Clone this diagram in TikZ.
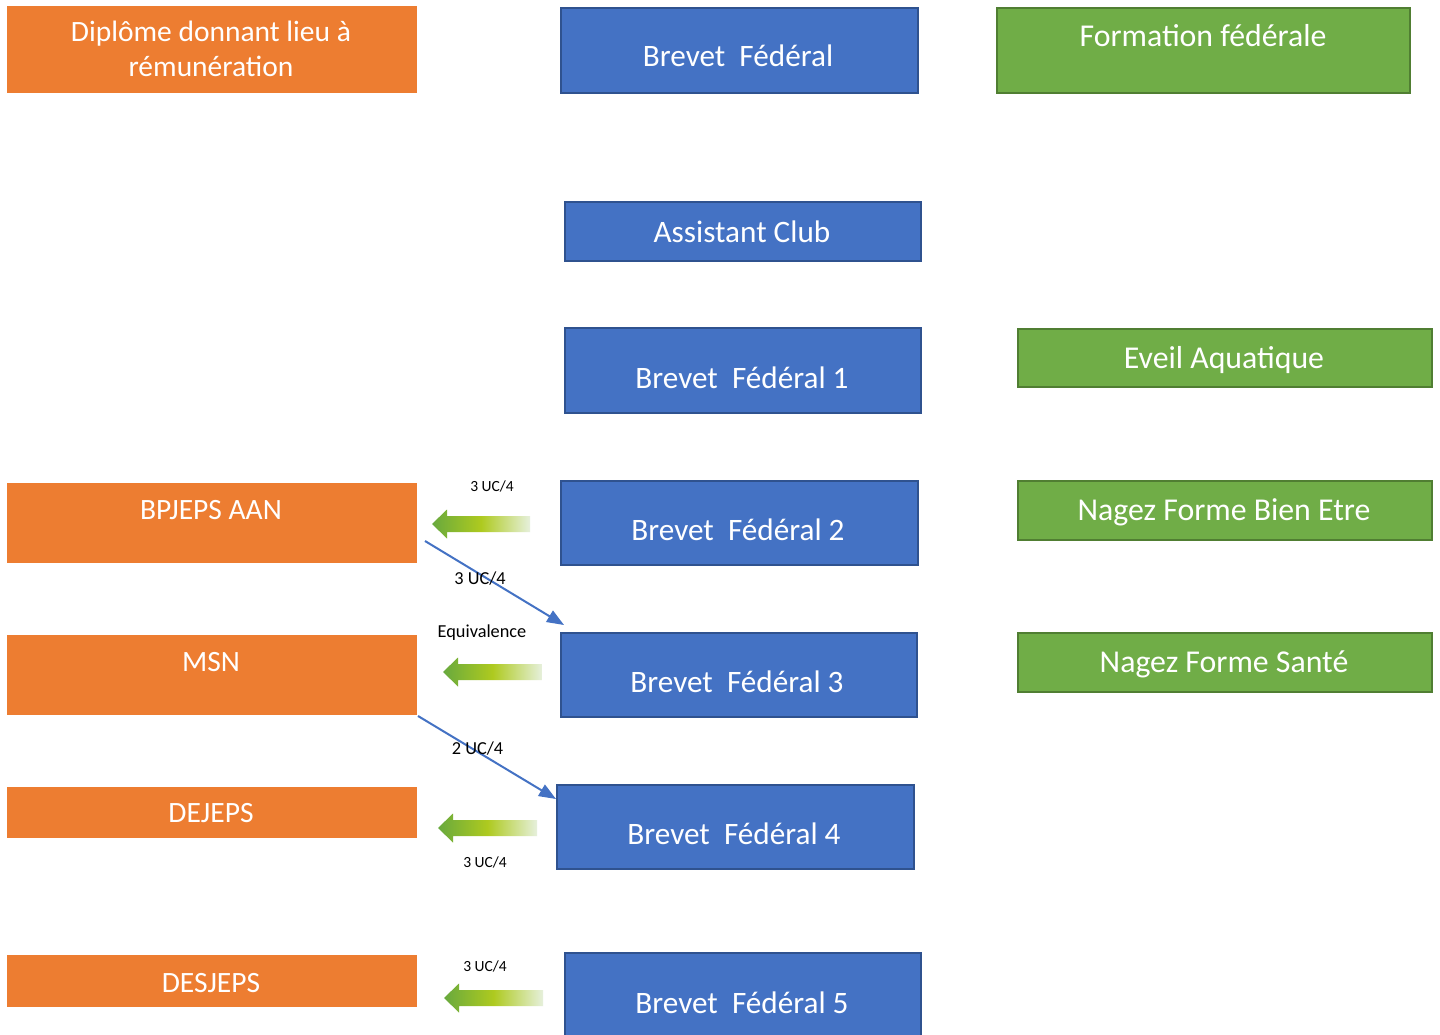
\documentclass[tikz,border=0pt]{standalone}
\usepackage{fontspec}
\setmainfont{Carlito}
\usetikzlibrary{arrows.meta}
\definecolor{orangeC}{HTML}{ED7D31}
\definecolor{blueC}{HTML}{4472C4}
\definecolor{blueD}{HTML}{2F528F}
\definecolor{greenC}{HTML}{70AD47}
\definecolor{greenD}{HTML}{507E32}
\definecolor{gA}{HTML}{68A93E}
\definecolor{gB}{HTML}{AECA1F}
\definecolor{gC}{HTML}{E6F0DC}
\tikzset{
  obox/.style={fill=orangeC, draw=orangeC, line width=0.5pt, inner sep=0pt, anchor=north west},
  bbox/.style={fill=blueC, draw=blueD, line width=2pt, inner sep=0pt, anchor=north west},
  gbox/.style={fill=greenC, draw=greenD, line width=2pt, inner sep=0pt, anchor=north west},
  big/.style={text=white, inner sep=0pt, anchor=base, font=\fontsize{31.2}{37}\selectfont},
  gbig/.style={text=white, inner sep=0pt, anchor=base, font=\fontsize{31.8}{37}\selectfont},
  mid/.style={text=white, inner sep=0pt, anchor=base, font=\fontsize{29.5}{35}\selectfont, align=center},
  small/.style={text=black, inner sep=0pt, anchor=base, font=\fontsize{15.5}{18}\selectfont},
  smallb/.style={text=black, inner sep=0pt, anchor=base, font=\fontsize{18.3}{22}\selectfont},
  conn/.style={draw=blueC, line width=2pt, -{Triangle[length=17pt,width=13pt]}},
  garrow/.style={left color=gA, right color=gC, middle color=gB}
}
\newcommand{\blockarrow}[3]{%
  \shade[garrow] (#1,#2) -- ({#1+15},{#2-14.5}) -- ({#1+15},{#2-8}) -- (#3,{#2-8})
    -- (#3,{#2+8}) -- ({#1+15},{#2+8}) -- ({#1+15},{#2+14.5}) -- cycle;}
\begin{document}
\begin{tikzpicture}[x=1pt,y=-1pt]
\useasboundingbox[fill=white] (0,0) rectangle (1440,1035);

% orange boxes
\node[obox, minimum width=409pt, minimum height=86pt] (dip) at (7,6) {};
\node[mid] (tdip) at (211,76.5) {Diplôme donnant lieu à\\rémunération};
\node[obox, minimum width=409pt, minimum height=79pt] (bpjeps) at (7,483) {};
\node[mid] (tbpjeps) at (211,519) {BPJEPS AAN};
\node[obox, minimum width=409pt, minimum height=79pt] (msn) at (7,635) {};
\node[mid] (tmsn) at (211,671) {MSN};
\node[obox, minimum width=409pt, minimum height=50pt] (dejeps) at (7,787) {};
\node[mid] (tdejeps) at (211,822) {DEJEPS};
\node[obox, minimum width=409pt, minimum height=51pt] (desjeps) at (7,955) {};
\node[mid] (tdesjeps) at (211,992) {DESJEPS};

% blue boxes
\node[bbox, minimum width=357pt, minimum height=85pt] (bf0) at (560,7) {};
\node[big] (tbf0) at (738,67) {Brevet\ \ Fédéral};
\node[bbox, minimum width=356pt, minimum height=59pt] (ac) at (564,201) {};
\node[big] (tac) at (742,242) {Assistant Club};
\node[bbox, minimum width=356pt, minimum height=85pt] (bf1) at (564,327) {};
\node[big] (tbf1) at (742,388) {Brevet\ \ Fédéral 1};
\node[bbox, minimum width=357pt, minimum height=84pt] (bf2) at (560,480) {};
\node[big] (tbf2) at (738,540) {Brevet\ \ Fédéral 2};
\node[bbox, minimum width=356pt, minimum height=84pt] (bf3) at (560,632) {};
\node[big] (tbf3) at (737,692) {Brevet\ \ Fédéral 3};
\node[bbox, minimum width=357pt, minimum height=84pt] (bf4) at (556,784) {};
\node[big] (tbf4) at (734,844) {Brevet\ \ Fédéral 4};
\node[bbox, minimum width=356pt, minimum height=95pt] (bf5) at (564,952) {};
\node[big] (tbf5) at (742,1013) {Brevet\ \ Fédéral 5};

% green boxes
\node[gbox, minimum width=413pt, minimum height=85pt] (ff) at (996,7) {};
\node[gbig] (tff) at (1203,47) {Formation fédérale};
\node[gbox, minimum width=414pt, minimum height=58pt] (ea) at (1017,328) {};
\node[gbig] (tea) at (1224,368) {Eveil Aquatique};
\node[gbox, minimum width=414pt, minimum height=59pt] (nfbe) at (1017,480) {};
\node[gbig] (tnfbe) at (1224,520) {Nagez Forme Bien Etre};
\node[gbox, minimum width=414pt, minimum height=59pt] (nfs) at (1017,632) {};
\node[gbig] (tnfs) at (1224,672) {Nagez Forme Santé};

% gradient block arrows
\blockarrow{432}{524}{530}
\blockarrow{443}{672}{542}
\blockarrow{438}{828}{537}
\blockarrow{444}{998}{543}

% connectors
\coordinate (s1) at (425,541);
\coordinate (e1) at (564,625);
\coordinate (s2) at (418,716);
\coordinate (e2) at (556,799);
\draw[conn] (s1) -- (e1);
\draw[conn] (s2) -- (e2);

% small labels
\node[small] (l1) at (492,491) {3 UC/4};
\node[smallb] (l2) at (480,584) {3 UC/4};
\node[smallb] (l3) at (482,637) {Equivalence};
\node[smallb] (l4) at (477.5,754) {2 UC/4};
\node[small] (l5) at (485,867) {3 UC/4};
\node[small] (l6) at (485,971) {3 UC/4};
\end{tikzpicture}
\end{document}
